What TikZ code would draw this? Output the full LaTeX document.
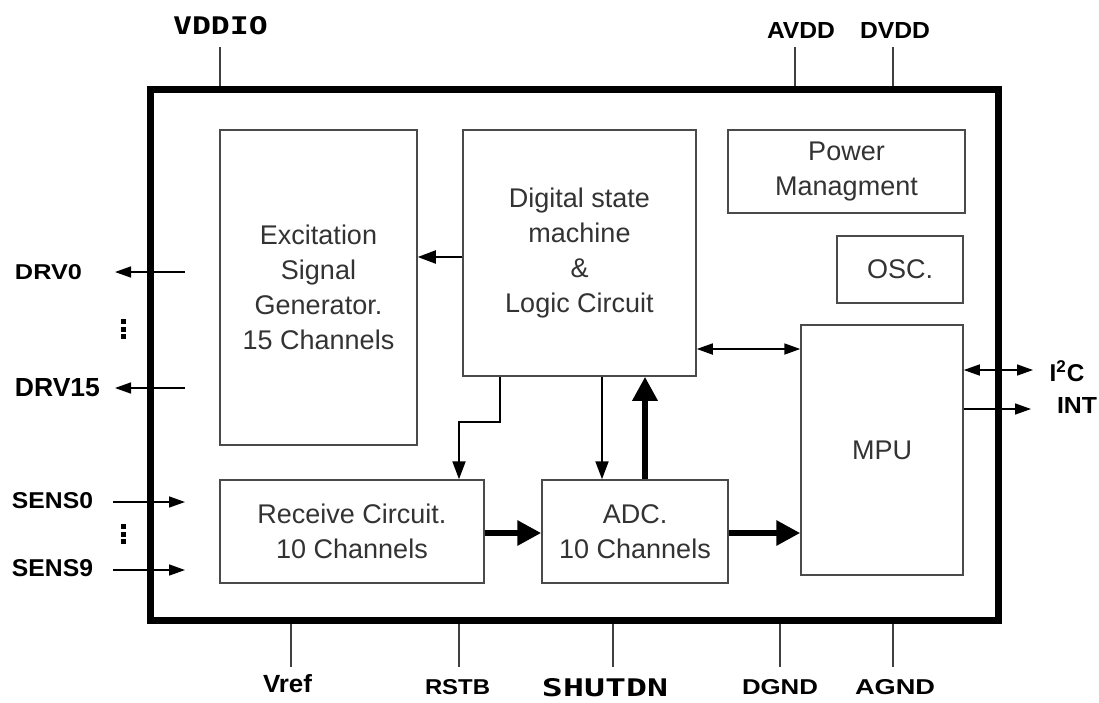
\documentclass[tikz,border=0pt]{standalone}
\usepackage{fontspec}
\setmainfont{Liberation Sans}
\newfontfamily\monofnt{DejaVu Sans Mono}
\usetikzlibrary{arrows.meta}
\definecolor{boxgray}{HTML}{4A4A4A}
\definecolor{txtgray}{HTML}{333333}
\newcommand\pinl[3]{\resizebox{#1pt}{#2pt}{\bfseries #3}}
\newcommand\pinm[3]{\resizebox{#1pt}{#2pt}{\monofnt\bfseries #3}}
\begin{document}
\begin{tikzpicture}[x=1pt,y=-1pt,
  blk/.style={draw=boxgray, line width=1.5pt, inner sep=0pt, align=center,
    text=txtgray, font={\fontsize{27}{35}\selectfont}},
  outerbox/.style={draw=black, line width=7pt, inner sep=0pt},
  lbl/.style={inner sep=0pt, text=black},
  pinwire/.style={draw=black!75, line width=1.3pt},
  dotmark/.style={fill=black},
  sig/.style={draw=black, line width=2pt, -{Triangle[length=18pt,width=13pt]}},
  pinsig/.style={draw=black, line width=1.5pt, -{Triangle[length=16pt,width=11pt]}},
  sigb/.style={draw=black, line width=1.8pt, {Triangle[length=16pt,width=11pt]}-{Triangle[length=16pt,width=11pt]}},
  bus/.style={draw=black, line width=6.5pt, -{Triangle[length=24pt,width=24pt]}},
]
\useasboundingbox (0,0) rectangle (1099,702);
\fill[white] (0,0) rectangle (1099,702);

% outer chip
\node[outerbox, minimum width=848, minimum height=531] (chip) at (574,354.5) {};

% blocks
\node[blk, minimum width=197, minimum height=315] (exc) at (318.5,287.5) {Excitation\\Signal\\Generator.\\15 Channels};
\node[blk, minimum width=233, minimum height=246] (dsm) at (579.5,253) {Digital state\\machine\\\&\\Logic Circuit};
\node[blk, minimum width=237, minimum height=83] (pwr) at (846.5,171.5) {Power\\Managment};
\node[blk, minimum width=126, minimum height=67] (osc) at (900,269.5) {OSC.};
\node[blk, minimum width=162, minimum height=250] (mpu) at (882,450) {MPU};
\node[blk, minimum width=264, minimum height=103] (rcv) at (352,531.5) {Receive Circuit.\\10 Channels};
\node[blk, minimum width=186, minimum height=103] (adc) at (635,531.5) {ADC.\\10 Channels};

% internal connectors
\draw[sig] ([yshift=-4pt]dsm.west) coordinate (a1) -- (a1 -| exc.east);
\coordinate (k1) at (500,422);
\coordinate (k2) at (459,422);
\draw[sig] (k1 |- dsm.south) -- (k1) -- (k2) -- (k2 |- rcv.north);
\coordinate (k3) at (602,0);
\draw[sig] (k3 |- dsm.south) -- (k3 |- adc.north);
\coordinate (k4) at (645,0);
\draw[bus] (k4 |- adc.north) -- (k4 |- dsm.south);
\coordinate (k5) at (0,533);
\draw[bus] (k5 -| rcv.east) -- (k5 -| adc.west);
\draw[bus] (k5 -| adc.east) -- (k5 -| mpu.west);
\coordinate (k6) at (0,349);
\draw[sigb] (k6 -| dsm.east) -- (k6 -| mpu.west);

% left pins
\node[lbl] (drv0) at (48.5,272) {\pinl{67}{15}{DRV0}};
\node[lbl] (drv15) at (57.5,388) {\pinl{85}{18}{DRV15}};
\node[lbl] (sens0) at (52.5,501) {\pinl{81}{16}{SENS0}};
\node[lbl] (sens9) at (52.5,568) {\pinl{81}{17}{SENS9}};
\foreach \yy in {319,326.5,334} \fill[dotmark] (121,\yy) rectangle (126,\yy+5);
\foreach \yy in {524,531.5,539} \fill[dotmark] (121,\yy) rectangle (126,\yy+5);
\coordinate (d0a) at (185,272); \coordinate (d0b) at (115,272);
\coordinate (d15a) at (185,388); \coordinate (d15b) at (115,388);
\coordinate (s0a) at (113,502); \coordinate (s0b) at (185,502);
\coordinate (s9a) at (113,570); \coordinate (s9b) at (185,570);
\draw[pinsig] (d0a) -- (d0b);
\draw[pinsig] (d15a) -- (d15b);
\draw[pinsig] (s0a) -- (s0b);
\draw[pinsig] (s9a) -- (s9b);

% right pins
\node[lbl] (i2c) at (1067,371) {\resizebox{35pt}{!}{\bfseries I\textsuperscript{2}C}};
\node[lbl] (int) at (1077,405) {\pinl{40}{16}{INT}};
\coordinate (i2cr) at (1033,370);
\coordinate (intr) at (1031,409);
\draw[sigb, line width=1.5pt] (i2cr -| mpu.east) -- (i2cr);
\draw[pinsig] (intr -| mpu.east) -- (intr);

% top pins
\node[lbl] (vddio) at (220.5,26) {\pinm{95}{18}{VDDIO}};
\node[lbl] (avdd) at (801,30) {\pinl{68}{16}{AVDD}};
\node[lbl] (dvdd) at (895,30) {\pinl{70}{16}{DVDD}};
\coordinate (t1) at (220,47);
\coordinate (t2) at (795,47);
\coordinate (t3) at (893,47);
\draw[pinwire] (t1) -- (t1 |- chip.north);
\draw[pinwire] (t2) -- (t2 |- chip.north);
\draw[pinwire] (t3) -- (t3 |- chip.north);

% bottom pins
\node[lbl] (vref) at (287.5,684) {\pinl{49}{18}{Vref}};
\node[lbl] (rstb) at (457.5,687.5) {\pinl{65}{15}{RSTB}};
\node[lbl] (shutdn) at (605,688) {\pinm{126}{18}{SHUTDN}};
\node[lbl] (dgnd) at (780,687.5) {\pinl{76}{15}{DGND}};
\node[lbl] (agnd) at (895,687.5) {\pinl{80}{15}{AGND}};
\coordinate (b1) at (291,667);
\coordinate (b2) at (459,667);
\coordinate (b3) at (613,667);
\coordinate (b4) at (780,667);
\coordinate (b5) at (893,667);
\foreach \b in {b1,b2,b3,b4,b5} \draw[pinwire] (\b |- chip.south) -- (\b);
\end{tikzpicture}
\end{document}
